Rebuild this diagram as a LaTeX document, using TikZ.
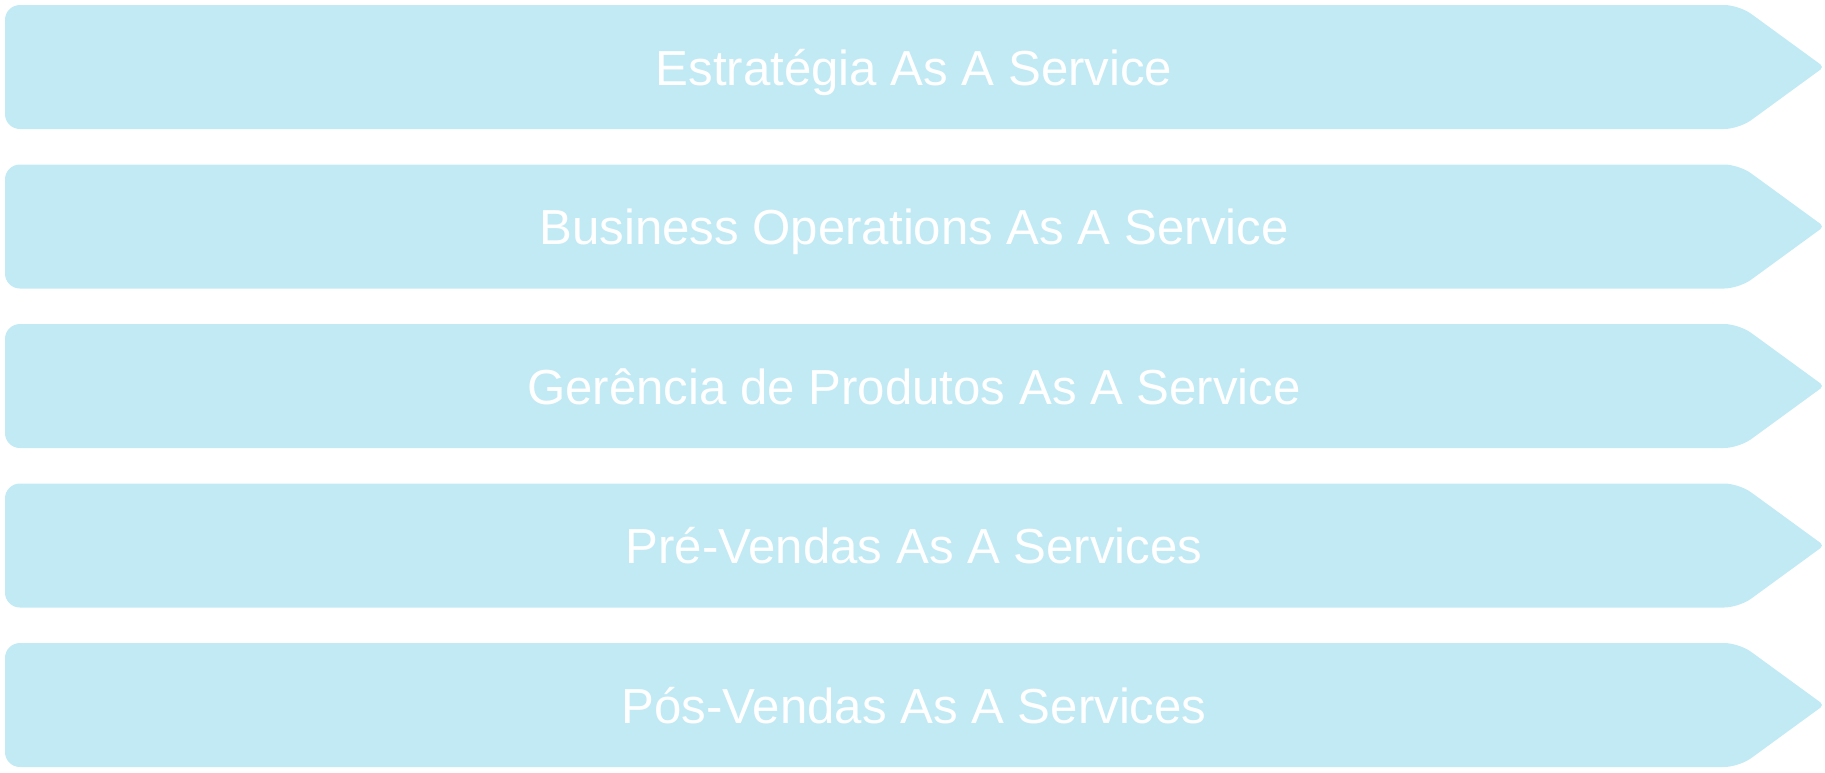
\documentclass[tikz,border=0pt]{standalone}
\usepackage{fontspec}
\setmainfont{Liberation Sans}
\usepackage{xcolor}
\definecolor{barcyan}{RGB}{193,234,244}
\tikzstyle{banner} = [fill=barcyan]
\tikzstyle{bannertext} = [text=white, inner sep=0pt, anchor=base, font=\fontsize{28}{34}\selectfont]

\begin{document}
\begin{tikzpicture}[x=0.02cm, y=-0.02cm]
    \useasboundingbox (0,0) rectangle (1825,772);
    \foreach \t [count=\i from 0] in {Estratégia As A Service, Business Operations As A Service, Gerência de Produtos As A Service, Pré-Vendas As A Services, Pós-Vendas As A Services}
    {
        \pgfmathsetmacro\ytop{5+159.5*\i}
        \pgfmathsetmacro\ymid{\ytop+62}
        \pgfmathsetmacro\ybot{\ytop+124}
        % rounder corners on the body, a sharper tip
        \fill[banner] (5,\ymid) [rounded corners=8.5pt] -- (5,\ytop) -- (1739,\ytop) [rounded corners=2.5pt] -- (1824,\ymid) [rounded corners=8.5pt] -- (1739,\ybot) -- (5,\ybot) -- cycle;
        \node (banner\i) [bannertext] at (914,\ymid+18) {\t};
    }
\end{tikzpicture}
\end{document}
